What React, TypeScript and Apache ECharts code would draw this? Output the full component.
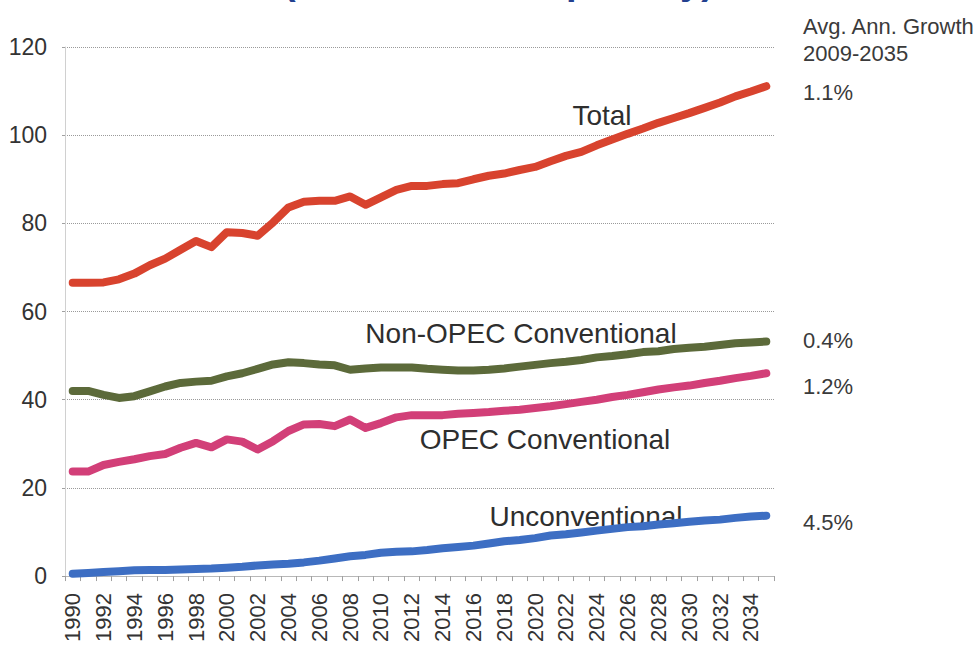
import React, { useEffect, useRef } from "react";
import * as echarts from "echarts";

const years = [
  "1990","1991","1992","1993","1994","1995","1996","1997","1998","1999",
  "2000","2001","2002","2003","2004","2005","2006","2007","2008","2009",
  "2010","2011","2012","2013","2014","2015","2016","2017","2018","2019",
  "2020","2021","2022","2023","2024","2025","2026","2027","2028","2029",
  "2030","2031","2032","2033","2034","2035",
];

const total = [
  66.5, 66.5, 66.6, 67.3, 68.6, 70.5, 72.0, 74.0, 76.0, 74.6,
  78.0, 77.8, 77.2, 80.2, 83.6, 84.9, 85.1, 85.1, 86.1, 84.2,
  85.9, 87.6, 88.5, 88.5, 88.9, 89.1, 90.0, 90.8, 91.3, 92.1,
  92.8, 94.1, 95.3, 96.2, 97.7, 99.0, 100.3, 101.5, 102.8, 103.9,
  105.0, 106.2, 107.4, 108.8, 109.9, 111.1,
];

const nonOpecConventional = [
  42.0, 42.0, 41.1, 40.4, 40.8, 41.9, 43.0, 43.8, 44.1, 44.3,
  45.3, 46.0, 47.0, 48.0, 48.5, 48.3, 48.0, 47.8, 46.8, 47.1,
  47.3, 47.3, 47.3, 47.0, 46.8, 46.6, 46.6, 46.8, 47.1, 47.5,
  47.9, 48.3, 48.6, 49.0, 49.6, 49.9, 50.3, 50.8, 51.0, 51.5,
  51.8, 52.0, 52.4, 52.8, 53.0, 53.2,
];

const opecConventional = [
  23.7, 23.7, 25.2, 25.9, 26.5, 27.2, 27.7, 29.1, 30.2, 29.2,
  31.0, 30.5, 28.7, 30.6, 32.9, 34.4, 34.5, 34.0, 35.5, 33.6,
  34.7, 36.0, 36.5, 36.5, 36.5, 36.8, 37.0, 37.2, 37.5, 37.7,
  38.1, 38.5, 39.0, 39.5, 40.0, 40.6, 41.1, 41.7, 42.3, 42.8,
  43.2, 43.8, 44.3, 44.9, 45.4, 46.0,
];

const unconventional = [
  0.5, 0.7, 0.9, 1.1, 1.3, 1.35, 1.4, 1.5, 1.6, 1.7,
  1.9, 2.1, 2.4, 2.6, 2.8, 3.1, 3.5, 4.0, 4.5, 4.8,
  5.3, 5.5, 5.6, 5.9, 6.3, 6.6, 6.9, 7.4, 7.9, 8.2,
  8.6, 9.2, 9.5, 9.9, 10.3, 10.7, 11.1, 11.3, 11.7, 12.0,
  12.3, 12.6, 12.8, 13.2, 13.5, 13.7,
];

const seriesNames = ["Total", "Non-OPEC Conventional", "OPEC Conventional", "Unconventional"];
const seriesColors = ["#d8432e", "#5c6a3a", "#d23f78", "#3d6ec3"];
const growthHeader = ["Avg. Ann. Growth", "2009-2035"];
const growthRates = ["1.1%", "0.4%", "1.2%", "4.5%"];
const titleText = "(million barrels per day)";

const FONT = "'Liberation Sans', Arial, sans-serif";

export default function App() {
  const ref = useRef<HTMLDivElement>(null);

  useEffect(() => {
    if (!ref.current) return;
    const chart = echarts.init(ref.current, undefined, { renderer: "svg" });
    const data = [total, nonOpecConventional, opecConventional, unconventional];

    const nameLabelPos = [
      [602, 115],
      [521, 333],
      [545, 439],
      [586, 516],
    ];
    const rateY = [92, 340, 386, 522];

    const graphics: any[] = [
      {
        type: "text",
        left: 283,
        top: -38,
        style: {
          text: titleText,
          fontSize: 38,
          fontWeight: "bold",
          fontFamily: FONT,
          fill: "#23408f",
        },
      },
      {
        type: "text",
        x: 803,
        y: 26,
        style: {
          text: growthHeader[0],
          fontSize: 22,
          fontFamily: FONT,
          fill: "#3a3a3a",
          verticalAlign: "middle",
          align: "left",
        },
      },
      {
        type: "text",
        x: 803,
        y: 53,
        style: {
          text: growthHeader[1],
          fontSize: 22,
          fontFamily: FONT,
          fill: "#3a3a3a",
          verticalAlign: "middle",
          align: "left",
        },
      },
    ];
    seriesNames.forEach((n, i) => {
      graphics.push({
        type: "text",
        x: nameLabelPos[i][0],
        y: nameLabelPos[i][1],
        style: {
          text: n,
          fontSize: 28,
          fontFamily: FONT,
          fill: "#2e2e2e",
          align: "center",
          verticalAlign: "middle",
        },
      });
      graphics.push({
        type: "text",
        x: 803,
        y: rateY[i],
        style: {
          text: growthRates[i],
          fontSize: 22,
          fontFamily: FONT,
          fill: "#3a3a3a",
          align: "left",
          verticalAlign: "middle",
        },
      });
    });

    chart.setOption({
      animation: false,
      backgroundColor: "#ffffff",
      grid: { left: 65, right: 202, top: 47, bottom: 66, containLabel: false },
      xAxis: {
        type: "category",
        data: years,
        boundaryGap: true,
        axisLine: { show: true, lineStyle: { color: "#b8b8b8", width: 1 } },
        axisTick: {
          show: true,
          interval: 0,
          length: 5,
          lineStyle: { color: "#a0a0a0" },
        },
        axisLabel: {
          interval: 1,
          rotate: 90,
          fontSize: 22,
          fontFamily: FONT,
          color: "#333333",
          margin: 17,
        },
        splitLine: { show: false },
      },
      yAxis: {
        type: "value",
        min: 0,
        max: 120,
        interval: 20,
        axisLine: { show: true, lineStyle: { color: "#d0d0d0", width: 1 } },
        axisTick: { show: true, length: 3, lineStyle: { color: "#a0a0a0" } },
        axisLabel: {
          fontSize: 23,
          fontFamily: FONT,
          color: "#333333",
          margin: 18,
        },
        splitLine: {
          show: true,
          lineStyle: { color: "#9a9a9a", type: "dotted", width: 1 },
        },
      },
      series: data.map((d, i) => ({
        name: seriesNames[i],
        type: "line",
        data: d,
        symbol: "none",
        smooth: false,
        lineStyle: { color: seriesColors[i], width: 8, cap: "round", join: "round" },
        itemStyle: { color: seriesColors[i] },
        z: 10 - i,
      })),
      graphic: graphics,
    });

    return () => chart.dispose();
  }, []);

  return (
    <div
      ref={ref}
      style={{ position: "absolute", left: 0, top: 0, width: 976, height: 645 }}
    />
  );
}
